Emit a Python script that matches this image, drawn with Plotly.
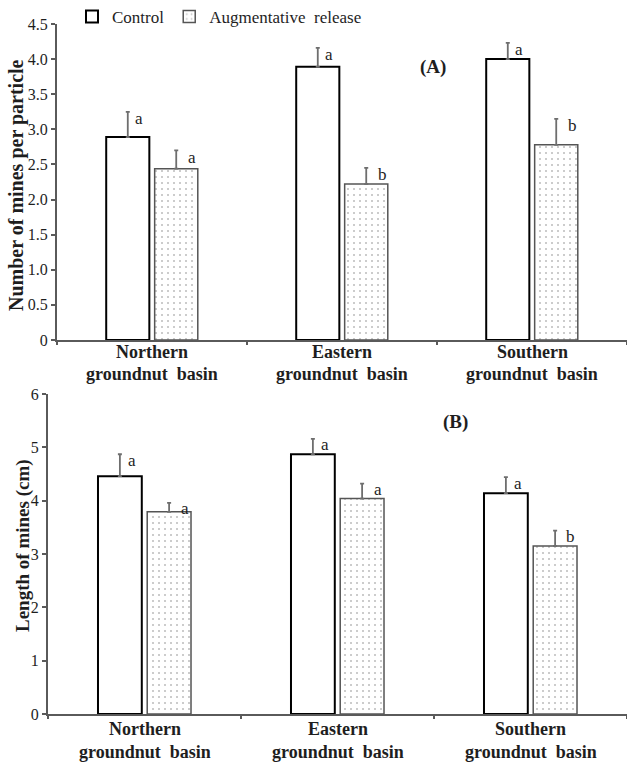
import plotly.graph_objects as go

# ---------------- data ----------------
categories = ["Northern", "Eastern", "Southern"]
cat_line1 = ["Northern", "Eastern", "Southern"]
cat_line2 = ["groundnut\u00a0 basin", "groundnut\u00a0 basin", "groundnut\u00a0 basin"]

mines_control = [2.89, 3.89, 4.00]
mines_control_err = [0.36, 0.27, 0.23]
mines_aug = [2.44, 2.22, 2.78]
mines_aug_err = [0.26, 0.23, 0.37]
mines_control_sig = ["a", "a", "a"]
mines_aug_sig = ["a", "b", "b"]

length_control = [4.46, 4.87, 4.14]
length_control_err = [0.41, 0.29, 0.30]
length_aug = [3.79, 4.04, 3.15]
length_aug_err = [0.17, 0.28, 0.29]
length_control_sig = ["a", "a", "a"]
length_aug_sig = ["a", "a", "b"]

ticks_a = [0, 0.5, 1.0, 1.5, 2.0, 2.5, 3.0, 3.5, 4.0, 4.5]
ticks_a_text = ["0", "0.5", "1.0", "1.5", "2.0", "2.5", "3.0", "3.5", "4.0", "4.5"]
ticks_b = [0, 1, 2, 3, 4, 5, 6]
ticks_b_text = ["0", "1", "2", "3", "4", "5", "6"]

# ---------------- layout helpers ----------------
W, H = 627, 762
ML, MR, MT, MB = 48, 0, 0, 48
PW, PH = W - ML - MR, H - MT - MB
def px(x):
    return (x - ML) / PW
def py(y):
    return (H - MB - y) / PH

SERIF = "Liberation Serif"
AXCOL = "#5a5a5a"
ERRCOL = "#6e6e6e"
TXT = "#1e1e1e"

fig = go.Figure()

def add_pair(ctrl, ctrl_err, aug, aug_err, xa, ya, showlegend):
    fig.add_trace(go.Bar(
        x=categories, y=ctrl, name="Control", xaxis=xa, yaxis=ya,
        showlegend=showlegend, legendgroup="c",
        marker=dict(color="white", line=dict(color="black", width=2)),
        error_y=dict(type="data", symmetric=False, array=ctrl_err,
                     arrayminus=[0] * len(ctrl_err), color=ERRCOL,
                     thickness=1.8, width=2),
    ))
    fig.add_trace(go.Bar(
        x=categories, y=aug, name="Augmentative\u00a0 release", xaxis=xa, yaxis=ya,
        showlegend=showlegend, legendgroup="a",
        marker=dict(color="white", line=dict(color="#555555", width=1.5),
                    pattern=dict(shape=".", fgcolor="#808080", bgcolor="white",
                                 size=6, solidity=0.1)),
        error_y=dict(type="data", symmetric=False, array=aug_err,
                     arrayminus=[0] * len(aug_err), color=ERRCOL,
                     thickness=1.8, width=2),
    ))

add_pair(mines_control, mines_control_err, mines_aug, mines_aug_err, "x", "y", True)
add_pair(length_control, length_control_err, length_aug, length_aug_err, "x2", "y2", False)

annotations = []
def add_letters(vals, errs, sigs, xref, yref, xshift, yshift):
    for c, v, e, s in zip(categories, vals, errs, sigs):
        annotations.append(dict(x=c, y=v + e, xref=xref, yref=yref, text=s,
                                showarrow=False, xshift=xshift, yshift=yshift,
                                xanchor="center", yanchor="middle",
                                font=dict(family=SERIF, size=17, color=TXT)))

add_letters(mines_control, mines_control_err, mines_control_sig, "x", "y", -13, -7)
add_letters(mines_aug, mines_aug_err, mines_aug_sig, "x", "y", 40, -7)
add_letters(length_control, length_control_err, length_control_sig, "x2", "y2", -13, -6)
add_letters(length_aug, length_aug_err, length_aug_sig, "x2", "y2", 40, -6)

def add_cat_labels(xref, yref, s1, s2):
    for c, l1, l2 in zip(categories, cat_line1, cat_line2):
        annotations.append(dict(x=c, y=0, xref=xref, yref=yref, text="<b>%s</b>" % l1,
                                showarrow=False, xanchor="center", yanchor="middle",
                                yshift=-s1, font=dict(family=SERIF, size=18, color=TXT)))
        annotations.append(dict(x=c, y=0, xref=xref, yref=yref, text="<b>%s</b>" % l2,
                                showarrow=False, xanchor="center", yanchor="middle",
                                yshift=-s2, font=dict(family=SERIF, size=18, color=TXT)))

add_cat_labels("x", "y", 12, 34)
add_cat_labels("x2", "y2", 15, 38)

annotations += [
    dict(x=px(433), y=py(67), xref="paper", yref="paper", text="<b>(A)</b>",
         showarrow=False, xanchor="center", yanchor="middle",
         font=dict(family=SERIF, size=19, color=TXT)),
    dict(x=px(455), y=py(422), xref="paper", yref="paper", text="<b>(B)</b>",
         showarrow=False, xanchor="center", yanchor="middle",
         font=dict(family=SERIF, size=19, color=TXT)),
    dict(x=px(17), y=py(185), xref="paper", yref="paper",
         text="<b>Number of mines per particle</b>", textangle=-90,
         showarrow=False, xanchor="center", yanchor="middle",
         font=dict(family=SERIF, size=20, color=TXT)),
    dict(x=px(23), y=py(546), xref="paper", yref="paper",
         text="<b>Length of mines (cm)</b>", textangle=-90,
         showarrow=False, xanchor="center", yanchor="middle",
         font=dict(family=SERIF, size=19, color=TXT)),
]

xaxis_common = dict(
    type="category", showline=True, linecolor=AXCOL, linewidth=2,
    ticks="outside", tickson="boundaries", ticklen=3, tickwidth=1.5,
    tickcolor=AXCOL, showgrid=False, zeroline=False, automargin=False,
    showticklabels=False,
)
yaxis_common = dict(
    showline=True, linecolor=AXCOL, linewidth=2, ticks="outside", ticklen=4,
    tickwidth=1.5, tickcolor=AXCOL, showgrid=False, zeroline=False,
    automargin=False,
    tickfont=dict(family=SERIF, size=16, color=TXT),
)

fig.update_layout(
    width=W, height=H,
    margin=dict(l=ML, r=MR, t=MT, b=MB, autoexpand=False),
    paper_bgcolor="white", plot_bgcolor="white",
    barmode="group", bargap=0.49, bargroupgap=0.11,
    font=dict(family=SERIF, color=TXT),
    xaxis=dict(domain=[px(57), 1], anchor="y", **xaxis_common),
    yaxis=dict(domain=[py(340), py(24)], anchor="x", range=[0, 4.5],
               tickmode="array", tickvals=ticks_a, ticktext=ticks_a_text,
               **yaxis_common),
    xaxis2=dict(domain=[0, 1], anchor="y2", **xaxis_common),
    yaxis2=dict(domain=[0, py(394)], anchor="x2", range=[0, 6],
                tickmode="array", tickvals=ticks_b, ticktext=ticks_b_text,
                **yaxis_common),
    legend=dict(orientation="h", x=px(72), y=py(-1), xanchor="left", yanchor="top",
                font=dict(family=SERIF, size=17, color=TXT),
                bgcolor="rgba(0,0,0,0)"),
    annotations=annotations,
)

fig.write_html("out.html", config={"displayModeBar": False},
               post_script="document.body.style.margin='0px';")
